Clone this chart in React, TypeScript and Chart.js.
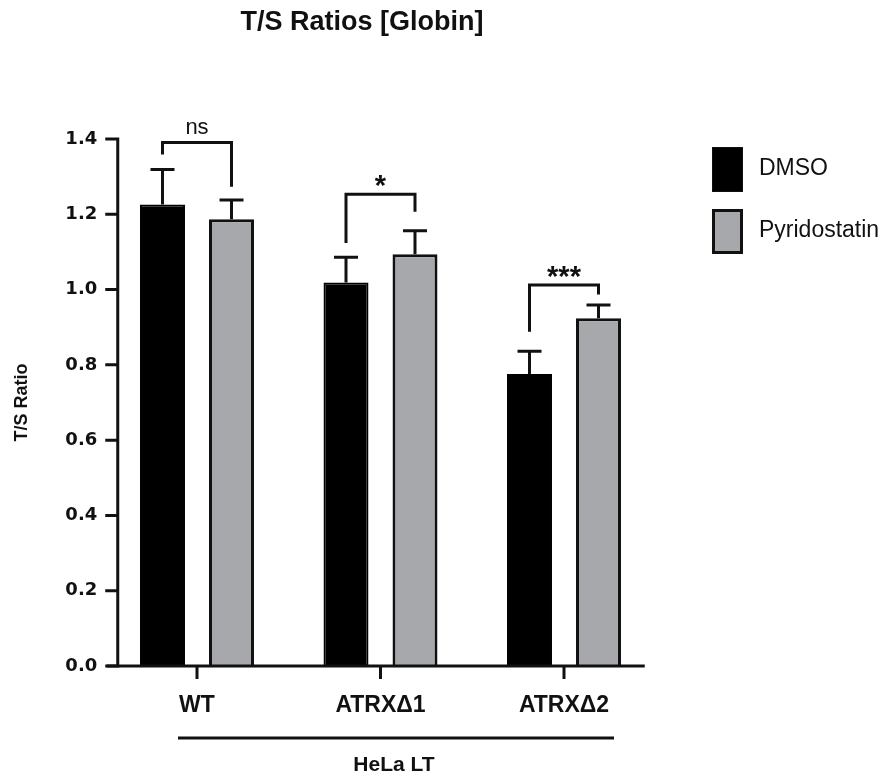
import React, { useEffect, useRef } from 'react';
import { Chart, registerables } from 'chart.js';

Chart.register(...registerables);

// ---- data ----
const categories = ['WT', 'ATRX\u03941', 'ATRX\u03942'];
const seriesNames = ['DMSO', 'Pyridostatin'];
const dmsoValues = [1.226, 1.019, 0.776];
const pyridostatinValues = [1.187, 1.094, 0.924];
const dmsoErrors = [0.093, 0.067, 0.06];
const pyridostatinErrors = [0.051, 0.062, 0.035];
const yTicks = [0, 0.2, 0.4, 0.6, 0.8, 1.0, 1.2, 1.4];
const significanceLabels = ['ns', '*', '***'];
const bracketTops = [1.391, 1.253, 1.012];
const bracketLeftEnds = [1.359, 1.124, 0.888];
const bracketRightEnds = [1.273, 1.207, 0.987];
const chartTitle = 'T/S Ratios [Globin]';
const yAxisTitle = 'T/S Ratio';
const groupLabel = 'HeLa LT';

// ---- style ----
const INK = '#111111';
const GRAY = '#a6a8ab';
const SANS = '"Liberation Sans", Arial, sans-serif';

const decorations = {
  id: 'decorations',
  afterDatasetsDraw(chart: any) {
    const ctx = chart.ctx;
    const ys = chart.scales.y;
    const sets: any[] = [
      [chart.getDatasetMeta(0), dmsoValues, dmsoErrors],
      [chart.getDatasetMeta(1), pyridostatinValues, pyridostatinErrors],
    ];
    ctx.save();
    ctx.strokeStyle = INK;
    ctx.lineWidth = 3;
    sets.forEach(([meta, vals, errs]) => {
      meta.data.forEach((bar: any, i: number) => {
        const top = ys.getPixelForValue(vals[i] + errs[i]);
        ctx.beginPath();
        ctx.moveTo(bar.x, bar.y);
        ctx.lineTo(bar.x, top);
        ctx.moveTo(bar.x - 12, top);
        ctx.lineTo(bar.x + 12, top);
        ctx.stroke();
      });
    });
    ctx.restore();
  },
  afterDraw(chart: any) {
    const ctx = chart.ctx;
    const xs = chart.scales.x;
    const ys = chart.scales.y;
    const area = chart.chartArea;
    const axisX = area.left + 12.5;
    const zeroY = ys.getPixelForValue(0);
    ctx.save();
    ctx.strokeStyle = INK;
    ctx.fillStyle = INK;
    ctx.lineWidth = 3;
    ctx.lineCap = 'butt';

    // y axis line + ticks
    ctx.beginPath();
    ctx.moveTo(axisX, ys.getPixelForValue(yTicks[yTicks.length - 1]) - 1.5);
    ctx.lineTo(axisX, zeroY);
    yTicks.forEach((v) => {
      const py = ys.getPixelForValue(v);
      ctx.moveTo(area.left, py);
      ctx.lineTo(axisX + 1.5, py);
    });
    ctx.stroke();

    // x axis line + ticks
    ctx.beginPath();
    ctx.moveTo(area.left + 1.5, zeroY);
    ctx.lineTo(area.right - 11, zeroY);
    categories.forEach((_, i) => {
      const px = xs.getPixelForValue(i);
      ctx.moveTo(px, zeroY);
      ctx.lineTo(px, zeroY + 13);
    });
    ctx.stroke();

    // significance brackets
    const metaD = chart.getDatasetMeta(0);
    const metaP = chart.getDatasetMeta(1);
    ctx.lineJoin = 'miter';
    categories.forEach((_, i) => {
      const xl = metaD.data[i].x;
      const xr = metaP.data[i].x;
      const top = ys.getPixelForValue(bracketTops[i]);
      ctx.beginPath();
      ctx.moveTo(xl, ys.getPixelForValue(bracketLeftEnds[i]));
      ctx.lineTo(xl, top);
      ctx.lineTo(xr, top);
      ctx.lineTo(xr, ys.getPixelForValue(bracketRightEnds[i]));
      ctx.stroke();
      const label = significanceLabels[i];
      ctx.textAlign = 'center';
      ctx.textBaseline = 'alphabetic';
      if (label === 'ns') {
        ctx.font = `22px ${SANS}`;
        ctx.fillText(label, (xl + xr) / 2, top - 8);
      } else {
        ctx.font = `bold 29px ${SANS}`;
        ctx.fillText(label, (xl + xr) / 2, top + 1);
      }
    });

    // group line + label
    const gl = xs.getPixelForValue(0) - 19;
    const gr = xs.getPixelForValue(categories.length - 1) + 50;
    ctx.beginPath();
    ctx.moveTo(gl, 738);
    ctx.lineTo(gr, 738);
    ctx.stroke();
    ctx.font = `bold 21px ${SANS}`;
    ctx.textAlign = 'center';
    ctx.fillText(groupLabel, (gl + gr) / 2 - 2, 771);

    // title
    ctx.font = `bold 27px ${SANS}`;
    ctx.fillText(chartTitle, 362, 30);

    // legend
    const lx = area.right + 56.25;
    const boxTops = [147, 209];
    chart.data.datasets.forEach((ds: any, i: number) => {
      const top = boxTops[i];
      ctx.fillStyle = ds.backgroundColor;
      ctx.fillRect(lx, top, 31, 45);
      ctx.strokeStyle = INK;
      ctx.lineWidth = i === 0 ? 1 : 3;
      const inset = ctx.lineWidth / 2;
      ctx.strokeRect(lx + inset, top + inset, 31 - 2 * inset, 45 - 2 * inset);
      ctx.fillStyle = INK;
      ctx.font = `23px ${SANS}`;
      ctx.textAlign = 'left';
      ctx.textBaseline = 'alphabetic';
      ctx.fillText(ds.label, lx + 47, top + 27.5);
    });

    ctx.restore();
  },
};

export default function App() {
  const ref = useRef<HTMLCanvasElement>(null);
  useEffect(() => {
    const chart = new Chart(ref.current as HTMLCanvasElement, {
      type: 'bar',
      data: {
        labels: categories,
        datasets: [
          {
            label: seriesNames[0],
            data: dmsoValues,
            backgroundColor: '#000000',
            borderColor: '#000000',
            borderWidth: 2,
            categoryPercentage: 0.752,
            barPercentage: 0.652,
          },
          {
            label: seriesNames[1],
            data: pyridostatinValues,
            backgroundColor: GRAY,
            borderColor: INK,
            borderWidth: 3,
            categoryPercentage: 0.752,
            barPercentage: 0.652,
          },
        ],
      },
      options: {
        animation: false,
        responsive: true,
        maintainAspectRatio: false,
        layout: { padding: { left: 0, right: 226.25, top: 139, bottom: 0 } },
        plugins: {
          legend: { display: false },
          title: { display: false },
          tooltip: { enabled: false },
        },
        scales: {
          x: {
            type: 'category',
            offset: true,
            grid: { display: false, drawTicks: false, offset: false },
            border: { display: false },
            ticks: {
              color: INK,
              font: { family: SANS, size: 23, weight: 'bold' },
              padding: 26,
              maxRotation: 0,
              autoSkip: false,
            },
            afterFit: (s: any) => {
              s.height = 108;
            },
          },
          y: {
            min: 0,
            max: 1.4,
            grid: { display: false, drawTicks: false },
            border: { display: false },
            ticks: {
              color: INK,
              font: { family: '"DejaVu Sans", sans-serif', size: 18, weight: 'bold' },
              padding: 8,
              callback: (v: any) => Number(v).toFixed(1),
            },
            afterBuildTicks: (s: any) => {
              s.ticks = yTicks.map((v) => ({ value: v }));
            },
            title: {
              display: true,
              text: yAxisTitle,
              color: INK,
              font: { family: SANS, size: 18, weight: 'bold' },
              padding: { top: 11, bottom: 0 },
            },
            afterFit: (s: any) => {
              s.width = 105.25;
            },
          },
        },
      },
      plugins: [decorations],
    });
    return () => chart.destroy();
  }, []);
  return (
    <div style={{ position: 'fixed', left: 0, top: 0, width: 882, height: 774, background: '#ffffff' }}>
      <canvas ref={ref} />
    </div>
  );
}
